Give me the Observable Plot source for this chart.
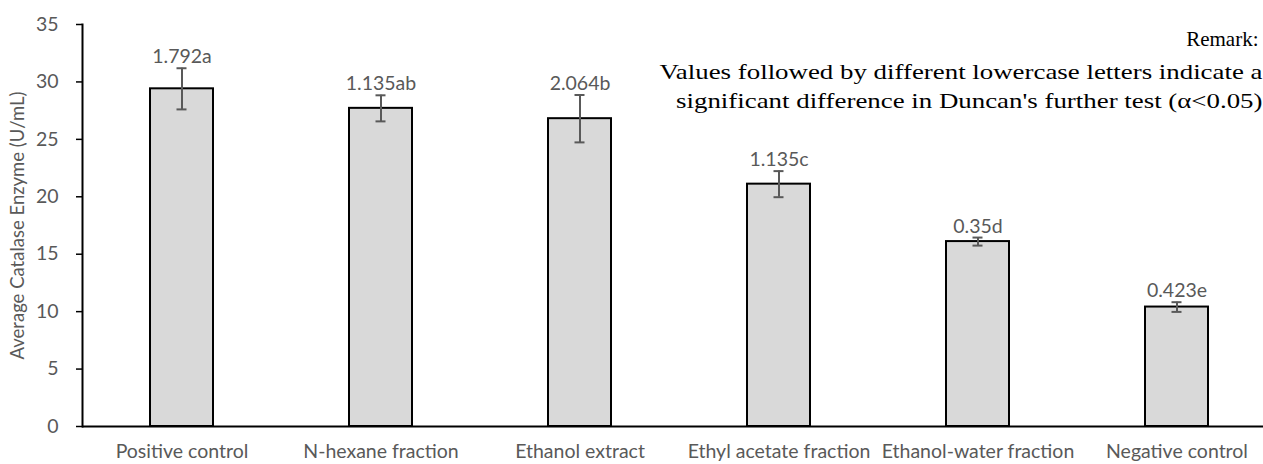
<!DOCTYPE html>
<html>
<head>
<meta charset="utf-8">
<script src="https://cdn.jsdelivr.net/npm/d3@7"></script>
<script src="https://cdn.jsdelivr.net/npm/@observablehq/plot@0.6"></script>
<style>
  html, body { margin: 0; padding: 0; background: #fff; overflow: hidden; }
  #chart svg { display: block; }
</style>
</head>
<body>
<div id="chart"></div>
<script>
const categories = ["Positive control", "N-hexane fraction", "Ethanol extract", "Ethyl acetate fraction", "Ethanol-water fraction", "Negative control"];
const means = [29.4, 27.7, 26.8, 21.1, 16.1, 10.4];
const sds = [1.792, 1.135, 2.064, 1.135, 0.35, 0.423];
const letters = ["a", "ab", "b", "c", "d", "e"];
const yTicks = [0, 5, 10, 15, 20, 25, 30, 35];
const yLabel = "Average Catalase Enzyme (U/mL)";
const remarkTitle = "Remark:";
const remarkLines = [
  "Values followed by different lowercase letters indicate a",
  "significant difference in Duncan's further test (\u03b1<0.05)"
];

const data = categories.map((c, i) => ({
  category: c, mean: means[i], sd: sds[i], label: `${sds[i]}${letters[i]}`
}));

const sans = "Lato, 'Open Sans', sans-serif";
const serif = "'Liberation Serif', 'Times New Roman', serif";
const gray = "#595959";
const fs = 19.5;

const chart = Plot.plot({
  width: 1263,
  height: 464,
  marginLeft: 82,
  marginRight: -13,
  marginTop: 24,
  marginBottom: 38,
  style: { fontFamily: sans, background: "white", overflow: "visible" },
  x: { domain: categories, paddingInner: 0.683, paddingOuter: 0.3415, label: null },
  y: { domain: [0, 35], label: null },
  marks: [
    Plot.barY(data, { x: "category", y: "mean", fill: "#d9d9d9", stroke: "black", strokeWidth: 2 }),
    Plot.ruleX(data, { x: "category", y1: d => d.mean - d.sd, y2: d => d.mean + d.sd, stroke: gray, strokeWidth: 2 }),
    Plot.tickY(data, { x: "category", y: d => d.mean + d.sd, stroke: gray, strokeWidth: 2, insetLeft: 26.5, insetRight: 26.5 }),
    Plot.tickY(data, { x: "category", y: d => d.mean - d.sd, stroke: gray, strokeWidth: 2, insetLeft: 26.5, insetRight: 26.5 }),
    Plot.text(data, { x: "category", y: d => d.mean + d.sd, text: "label", lineAnchor: "bottom", dy: -5, fill: gray, fontSize: fs, fontFamily: sans }),
    Plot.ruleY([0], { stroke: "black", strokeWidth: 2 }),
    Plot.frame({ anchor: "left", stroke: "black", strokeWidth: 2 }),
    Plot.axisY({ ticks: yTicks, tickSize: 6, tickPadding: 18, stroke: "black", strokeWidth: 1.5, fill: gray, fontSize: fs, fontFamily: sans, label: null }),
    Plot.text([yLabel], { frameAnchor: "left", text: d => d, textAnchor: "middle", rotate: -90, dx: -64, fill: gray, fontSize: 18.5, fontFamily: sans }),
    Plot.axisX({ tickSize: 0, tickPadding: 18, fill: gray, fontSize: fs, fontFamily: sans, label: null }),
    Plot.text([remarkTitle], { frameAnchor: "top-right", text: d => d, textAnchor: "end", lineAnchor: "top", dx: -18, dy: 7, fontSize: 21, fontFamily: serif, fill: "black" }),
    Plot.text([remarkLines.join("\n")], { className: "remark-body", frameAnchor: "top-right", text: d => d, textAnchor: "end", lineAnchor: "top", dx: -14, dy: 34, lineHeight: 1.38, fontSize: 21, fontFamily: serif, fill: "black" })
  ]
});
// horizontally widen the remark body, as in the original text box
d3.select(chart).selectAll(".remark-body text").each(function () {
  const t = this.getAttribute("transform") || "";
  this.setAttribute("transform", (t + " scale(1.28,1)").trim());
});
document.getElementById("chart").appendChild(chart);
</script>
</body>
</html>
